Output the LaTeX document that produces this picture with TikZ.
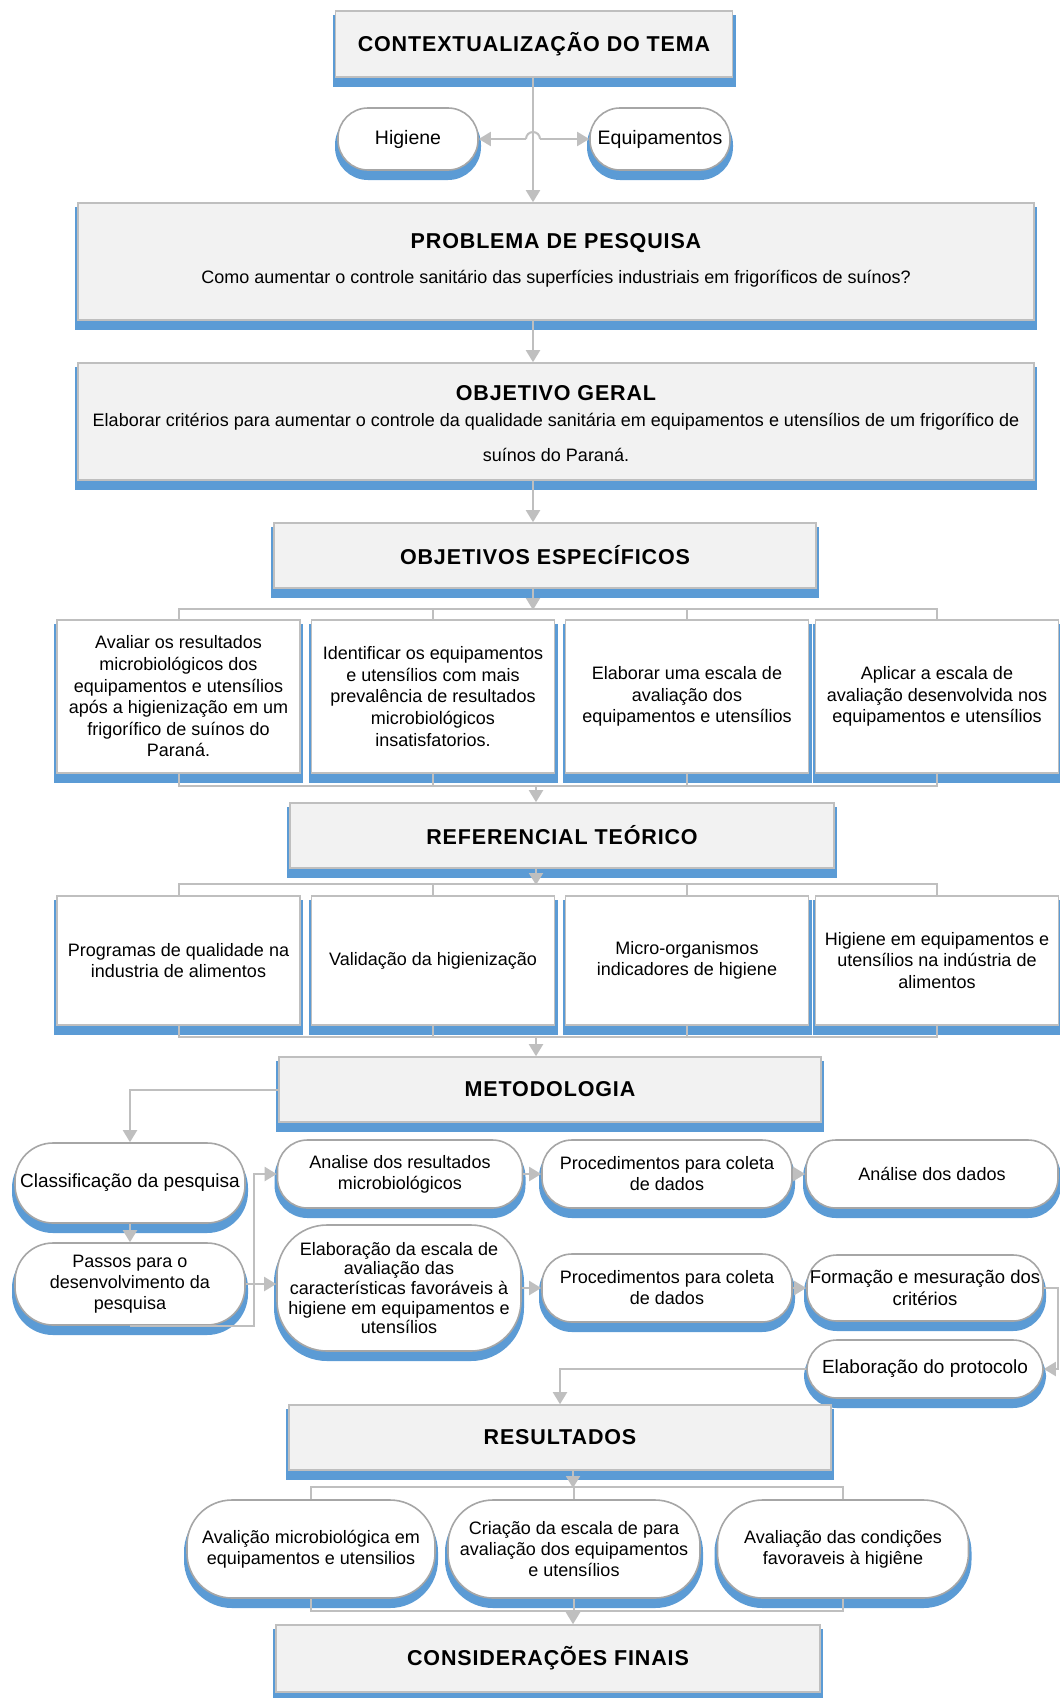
\documentclass[tikz,border=0pt]{standalone}
\usepackage{fontspec}
\setmainfont{Liberation Sans}
\newfontfamily\headfont[LetterSpace=4]{Liberation Sans}
\usetikzlibrary{arrows.meta,shadows}

\definecolor{boxfill}{HTML}{F2F2F2}
\definecolor{edgegray}{HTML}{BFBFBF}
\definecolor{pilledge}{HTML}{A6A6A6}
\definecolor{shadeblue}{HTML}{5B9BD5}
\definecolor{linkgray}{HTML}{BFBFBF}

\tikzset{
  bluecast/.style={general shadow={shadow xshift=0pt, shadow yshift=-7pt,
      fill=shadeblue, draw=shadeblue, line width=6pt}},
  headbox/.style={rectangle, draw=edgegray, line width=1.6pt, fill=boxfill,
      bluecast, inner sep=0pt},
  itembox/.style={rectangle, draw=edgegray, line width=1.6pt, fill=white,
      bluecast, align=center, inner sep=0pt, minimum width=243pt,
      font=\fontsize{18}{21.6}\selectfont},
  pill/.style={rectangle, rounded corners=30pt, draw=pilledge, line width=1.6pt,
      fill=white, bluecast, align=center, inner sep=0pt,
      font=\fontsize{18}{21}\selectfont},
  bigpill/.style={pill, font=\fontsize{19.5}{22}\selectfont},
  headtext/.style={font=\headfont\bfseries\fontsize{21.5}{25}\selectfont, inner sep=0pt},
  bodytext/.style={font=\fontsize{18}{21}\selectfont, inner sep=0pt},
  link/.style={draw=linkgray, line width=2pt},
  arrow/.style={link, -{Triangle[length=12pt,width=14pt]}},
}

\begin{document}
\begin{tikzpicture}[x=1pt, y=-1pt]
\useasboundingbox (0,0) rectangle (1060,1698);

% guide lines for the vertical connectors
\coordinate (spine) at (533,0);
\coordinate (spineB) at (536,0);
\coordinate (spineC) at (573,0);

% ---------- top part ----------
\node[headbox, minimum width=397pt, minimum height=66pt] (ctx) at (534,44) {};
\node[headtext] (ctxt) at (ctx.center) {CONTEXTUALIZAÇÃO DO TEMA};

\node[bigpill, minimum width=140pt, minimum height=62pt] (hig) at (408,139) {Higiene};
\node[bigpill, minimum width=140pt, minimum height=62pt] (equip) at (660,139) {Equipamentos};

\node[headbox, minimum width=956pt, minimum height=117pt] (prob) at (556,261.5) {};
\node[headtext] (probt) at (556,243) {PROBLEMA DE PESQUISA};
\node[bodytext] (probs) at (556,279) {Como aumentar o controle sanitário das superfícies industriais em frigoríficos de suínos?};

\node[headbox, minimum width=956pt, minimum height=117pt] (geral) at (556,421.5) {};
\node[headtext] (geralt) at (556,393) {OBJETIVO GERAL};
\node[bodytext] (geral1) at (556,422) {Elaborar critérios para aumentar o controle da qualidade sanitária em equipamentos e utensílios de um frigorífico de};
\node[bodytext] (geral2) at (556,455) {suínos do Paraná.};

% ---------- specific objectives ----------
\node[headbox, minimum width=542pt, minimum height=65pt] (esp) at (545,555.5) {};
\node[headtext] (espt) at (esp.center) {OBJETIVOS ESPECÍFICOS};

\node[itembox, minimum height=153pt] (e1) at (178.5,696.5)
  {Avaliar os resultados\\microbiológicos dos\\equipamentos e utensílios\\após a higienização em um\\frigorífico de suínos do\\Paraná.};
\node[itembox, minimum height=153pt] (e2) at (433,696.5)
  {Identificar os equipamentos\\e utensílios com mais\\prevalência de resultados\\microbiológicos\\insatisfatorios.};
\node[itembox, minimum height=153pt] (e3) at (687,696.5)
  {Elaborar uma escala de\\avaliação dos\\equipamentos e utensílios};
\node[itembox, minimum height=153pt] (e4) at (937,696.5)
  {Aplicar a escala de\\avaliação desenvolvida nos\\equipamentos e utensílios};

% ---------- theoretical background ----------
\node[headbox, minimum width=544pt, minimum height=65pt] (ref) at (562,835.5) {};
\node[headtext] (reft) at (ref.center) {REFERENCIAL TEÓRICO};

\node[itembox, minimum height=129pt] (t1) at (178.5,960.5)
  {Programas de qualidade na\\industria de alimentos};
\node[itembox, minimum height=129pt] (t2) at (433,960.5)
  {Validação da higienização};
\node[itembox, minimum height=129pt] (t3) at (687,960.5)
  {Micro-organismos\\indicadores de higiene};
\node[itembox, minimum height=129pt] (t4) at (937,960.5)
  {Higiene em equipamentos e\\utensílios na indústria de\\alimentos};

% ---------- methodology ----------
\node[headbox, minimum width=542pt, minimum height=65pt] (meto) at (550,1089.5) {};
\node[headtext] (metot) at (meto.center) {METODOLOGIA};

\node[bigpill, rounded corners=38pt, minimum width=230pt, minimum height=80pt,
      font=\fontsize{19}{22}\selectfont] (clas) at (130,1183)
  {Classificação da pesquisa};
\node[pill, rounded corners=38pt, minimum width=230pt, minimum height=82pt] (passos) at (130,1284)
  {Passos para o\\desenvolvimento da\\pesquisa};

\node[pill, minimum width=245pt, minimum height=68pt] (anal) at (400,1174)
  {Analise dos resultados\\microbiológicos};
\node[pill, rounded corners=50pt, minimum width=244pt, minimum height=126pt,
      font=\fontsize{18}{19.6}\selectfont] (elab) at (399,1288)
  {Elaboração da escala de\\avaliação das\\características favoráveis à\\higiene em equipamentos e\\utensílios};

\node[pill, minimum width=250pt, minimum height=68pt] (proc1) at (667,1174)
  {Procedimentos para coleta\\de dados};
\node[pill, minimum width=250pt, minimum height=68pt] (proc2) at (667,1288)
  {Procedimentos para coleta\\de dados};

\node[pill, minimum width=252pt, minimum height=68pt] (dados) at (932,1174)
  {Análise dos dados};
\node[bigpill, minimum width=236pt, minimum height=66pt,
      font=\fontsize{18.5}{21.5}\selectfont] (form) at (925,1288)
  {Formação e mesuração dos\\critérios};
\node[bigpill, minimum width=236pt, minimum height=58pt,
      font=\fontsize{19}{22}\selectfont] (prot) at (925,1369)
  {Elaboração do protocolo};

% ---------- results ----------
\node[headbox, minimum width=542pt, minimum height=65pt] (res) at (560,1437.5) {};
\node[headtext] (rest) at (res.center) {RESULTADOS};

\node[pill, rounded corners=45pt, minimum width=248pt, minimum height=98pt] (r1) at (311,1549)
  {Avalição microbiológica em\\equipamentos e utensilios};
\node[pill, rounded corners=45pt, minimum width=252pt, minimum height=98pt] (r2) at (574,1549)
  {Criação da escala de para\\avaliação dos equipamentos\\e utensílios};
\node[pill, rounded corners=45pt, minimum width=251pt, minimum height=98pt] (r3) at (843,1549)
  {Avaliação das condições\\favoraveis à higiêne};

\node[headbox, minimum width=544pt, minimum height=67pt] (cons) at (548,1658.5) {};
\node[headtext] (const) at (cons.center) {CONSIDERAÇÕES FINAIS};

% ---------- connectors ----------
\draw[arrow] (ctx.south -| spine) -- (prob.north -| spine);
\coordinate (hopL) at (526,139);
\coordinate (hopR) at (540,139);
\draw[link] (hopL) arc[start angle=180, end angle=0, radius=7pt];
\draw[arrow] (hopL) -- (hig.east);
\draw[arrow] (hopR) -- (equip.west);

\draw[arrow] (prob.south -| spine) -- (geral.north -| spine);
\draw[arrow] (geral.south -| spine) -- (esp.north -| spine);

% fan-out / fan-in around the specific objectives
\coordinate (espbar) at (533,610);
\draw[arrow] (esp.south -| spine) -- (espbar);
\draw[link] (e1.north) -- ++(0,-10) -| (e4.north);
\draw[link] (e2.north) -- ++(0,-10);
\draw[link] (e3.north) -- ++(0,-10);
\draw[link] (e1.south) -- ++(0,12) -| (e4.south);
\draw[link] (e2.south) -- ++(0,12);
\draw[link] (e3.south) -- ++(0,12);
\coordinate (espjoin) at (536,785);
\draw[arrow] (espjoin) -- (ref.north -| spineB);

% fan-out / fan-in around the theoretical background
\coordinate (refbar) at (536,885);
\draw[arrow] (ref.south -| spineB) -- (refbar);
\draw[link] (t1.north) -- ++(0,-11) -| (t4.north);
\draw[link] (t2.north) -- ++(0,-11);
\draw[link] (t3.north) -- ++(0,-11);
\draw[link] (t1.south) -- ++(0,11) -| (t4.south);
\draw[link] (t2.south) -- ++(0,11);
\draw[link] (t3.south) -- ++(0,11);
\coordinate (refjoin) at (536,1036);
\draw[arrow] (refjoin) -- (meto.north -| spineB);

% methodology flow
\draw[arrow] (meto.west) -| (clas.north);
\draw[arrow] (clas.south) -- (passos.north);
\coordinate (fork) at (254,1250);
\draw[arrow] (passos.south) -| (fork) |- (anal.west);
\draw[arrow] (passos.east) -- (elab.west |- passos.east);
\draw[arrow] (anal.east) -- (proc1.west);
\draw[arrow] (proc1.east) -- (dados.west);
\draw[arrow] (elab.east) -- (proc2.west);
\draw[arrow] (proc2.east) -- (form.west);
\draw[arrow] (form.east) -- ++(14,0) |- (prot.east);
\draw[arrow] (prot.west) -| (res.north);

% fan-out / fan-in around the results
\coordinate (resbar) at (573,1488);
\draw[arrow] (res.south -| spineC) -- (resbar);
\draw[link] (r1.north) -- ++(0,-12) -| (r3.north);
\draw[link] (r2.north) -- ++(0,-12);
\draw[link] (r1.south) -- ++(0,12) -| (r3.south);
\draw[link] (r2.south) -- ++(0,12);
\coordinate (resjoin) at (573,1610);
\draw[arrow] (resjoin) -- (cons.north -| spineC);
\end{tikzpicture}
\end{document}
